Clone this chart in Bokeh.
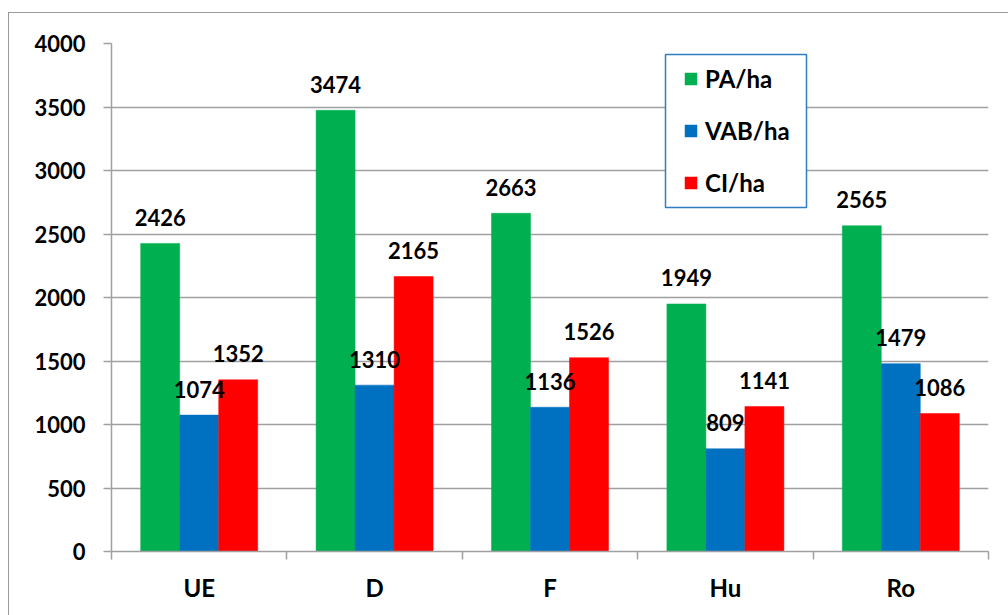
from bokeh.plotting import figure
from bokeh.models import (Range1d, FixedTicker, Legend, LegendItem, BoxAnnotation, ColumnDataSource)
from bokeh.core.properties import value
from bokeh.embed import file_html
from bokeh.resources import INLINE

categories = ["UE", "D", "F", "Hu", "Ro"]
pa_ha = [2426, 3474, 2663, 1949, 2565]
vab_ha = [1074, 1310, 1136, 809, 1479]
ci_ha = [1352, 2165, 1526, 1141, 1086]
y_ticks = [0, 500, 1000, 1500, 2000, 2500, 3000, 3500, 4000]

series = [("PA/ha", pa_ha, "#00b050", -0.2224),
          ("VAB/ha", vab_ha, "#0070c0", 0.0),
          ("CI/ha", ci_ha, "#ff0000", 0.2224)]
BAR_W = 0.2224
FONT = value("Lato")
GRAY = "#a0a0a0"

p = figure(width=1000, height=603, output_backend="svg", toolbar_location=None,
           x_range=Range1d(0, len(categories)), y_range=Range1d(0, 4000),
           min_border_left=103, min_border_top=31, min_border_right=20, min_border_bottom=64)
p.margin = (12, 0, 0, 8)
p.styles = {"box-shadow": "inset 1px 1px 0 0 #9a9a9a"}
p.outline_line_color = None
p.background_fill_color = "white"
p.border_fill_color = None

# y axis
p.yaxis.ticker = FixedTicker(ticks=y_ticks)
p.yaxis.axis_line_color = GRAY
p.yaxis.axis_line_width = 1.5
p.yaxis.major_tick_line_color = GRAY
p.yaxis.major_tick_line_width = 1.5
p.yaxis.major_tick_out = 8
p.yaxis.major_tick_in = 0
p.yaxis.minor_tick_line_color = None
p.yaxis.major_label_standoff = 18
p.yaxis.major_label_text_font = "Lato"
p.yaxis.major_label_text_font_style = "bold"
p.yaxis.major_label_text_font_size = "22px"
p.yaxis.major_label_text_color = "black"

# x axis
n = len(categories)
p.xaxis.ticker = FixedTicker(ticks=[i + 0.5 for i in range(n)], minor_ticks=list(range(n + 1)))
p.xaxis.major_label_overrides = {i + 0.5: c for i, c in enumerate(categories)}
p.xaxis.axis_line_color = GRAY
p.xaxis.axis_line_width = 1.5
p.xaxis.major_tick_line_color = None
p.xaxis.major_tick_out = 0
p.xaxis.major_tick_in = 0
p.xaxis.minor_tick_line_color = GRAY
p.xaxis.minor_tick_line_width = 1.5
p.xaxis.minor_tick_out = 8
p.xaxis.minor_tick_in = 0
p.xaxis.major_label_standoff = 13
p.xaxis.major_label_text_font = "Lato"
p.xaxis.major_label_text_font_style = "bold"
p.xaxis.major_label_text_font_size = "24px"
p.xaxis.major_label_text_color = "black"

p.xgrid.grid_line_color = None
p.ygrid.grid_line_color = GRAY
p.ygrid.grid_line_width = 1.5

items = []
for name, vals, color, off in series:
    src = ColumnDataSource(dict(x=[i + 0.5 + off for i in range(n)], top=vals))
    r = p.vbar(x="x", top="top", bottom=0, width=BAR_W, source=src,
               fill_color=color, line_color=color, line_width=0.5)
    items.append(LegendItem(label=name, renderers=[r]))

for name, vals, color, off in series:
    src = ColumnDataSource(dict(x=[i + 0.5 + off for i in range(n)], y=vals,
                                lab=[str(v) for v in vals]))
    p.text(x="x", y="y", text="lab", source=src, text_font=FONT, text_font_style="bold",
           text_font_size="22px", text_align="center", text_baseline="alphabetic",
           y_offset=-26, text_color="black")

# legend box
box = BoxAnnotation(left=554, right=695, top=497, bottom=344,
                    left_units="screen", right_units="screen", top_units="screen", bottom_units="screen",
                    fill_color="white", fill_alpha=1, line_color="#2f7dc3", line_alpha=1, line_width=1.5)
p.add_layout(box)

legend = Legend(items=items, location=(572, 354), orientation="vertical",
                glyph_width=15, glyph_height=15, label_standoff=7, spacing=22,
                padding=0, margin=0, label_height=30,
                border_line_color=None, background_fill_alpha=0,
                label_text_font="Lato", label_text_font_style="bold",
                label_text_font_size="24px", label_text_color="black")
p.add_layout(legend, "center")

open("out.html", "w").write(file_html(p, INLINE))
